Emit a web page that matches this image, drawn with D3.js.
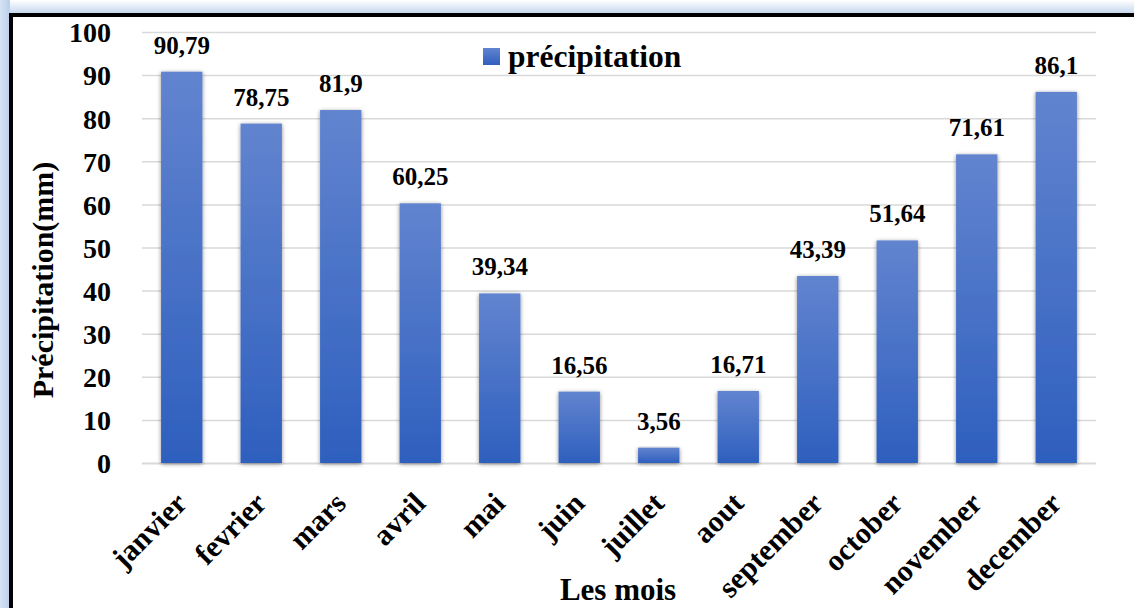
<!DOCTYPE html>
<html>
<head>
<meta charset="utf-8">
<script src="https://cdn.jsdelivr.net/npm/d3@7"></script>
<style>
html,body{margin:0;padding:0;background:#fff;}
svg{display:block;}
text{font-family:"Liberation Serif","Times New Roman",serif;font-weight:bold;fill:#000;}
</style>
</head>
<body>
<svg id="chart" width="1134" height="608"></svg>
<script>
const months = ["janvier","fevrier","mars","avril","mai","juin","juillet","aout","september","october","november","december"];
const precipitation = [90.79,78.75,81.9,60.25,39.34,16.56,3.56,16.71,43.39,51.64,71.61,86.1];
const valueLabels = ["90,79","78,75","81,9","60,25","39,34","16,56","3,56","16,71","43,39","51,64","71,61","86,1"];
const yTicks = [0,10,20,30,40,50,60,70,80,90,100];
const seriesName = "précipitation";
const yTitle = "Précipitation(mm)";
const xTitle = "Les mois";

const W = 1134, H = 608;
const svg = d3.select("#chart");
const defs = svg.append("defs");

const fg = defs.append("linearGradient").attr("id","frameTop").attr("x1",0).attr("y1",0).attr("x2",0).attr("y2",1);
fg.append("stop").attr("offset","0%").attr("stop-color","#ffffff");
fg.append("stop").attr("offset","100%").attr("stop-color","#c3d6ee");
const fl = defs.append("linearGradient").attr("id","frameLeft").attr("x1",0).attr("y1",0).attr("x2",1).attr("y2",0);
fl.append("stop").attr("offset","0%").attr("stop-color","#d6e3f4");
fl.append("stop").attr("offset","100%").attr("stop-color","#b9cfea");

const bg = defs.append("linearGradient").attr("id","barGrad").attr("x1",0).attr("y1",0).attr("x2",0).attr("y2",1);
bg.append("stop").attr("offset","0%").attr("stop-color","#6284cf");
bg.append("stop").attr("offset","100%").attr("stop-color","#2e5fbe");

const sh = defs.append("filter").attr("id","shadow").attr("x","-30%").attr("y","-10%").attr("width","160%").attr("height","130%");
sh.append("feDropShadow").attr("dx",0).attr("dy",1).attr("stdDeviation",2.2).attr("flood-color","#000").attr("flood-opacity",0.45);

// frame
svg.append("rect").attr("x",0).attr("y",0).attr("width",W).attr("height",14).attr("fill","url(#frameTop)");
svg.append("rect").attr("x",0).attr("y",0).attr("width",10).attr("height",H).attr("fill","url(#frameLeft)");
svg.append("rect").attr("x",9).attr("y",13).attr("width",W-9).attr("height",4).attr("fill","#000");
svg.append("rect").attr("x",9).attr("y",13).attr("width",4).attr("height",H-13).attr("fill","#000");

const x = d3.scaleBand().domain(months).range([142,1096]).paddingInner(0.48).paddingOuter(0.24);
const y = d3.scaleLinear().domain([0,100]).range([463,32]);

// gridlines
const yAxis = d3.axisLeft(y).tickValues(yTicks).tickSize(-(1096-142)).tickFormat(d=>d);
const gy = svg.append("g").attr("transform","translate(142,0)").call(yAxis);
gy.select(".domain").remove();
gy.selectAll(".tick line").attr("stroke","#d9d9d9").attr("stroke-width",d=>d===0?2:1.5);
gy.selectAll(".tick text").attr("x",-31).attr("dy","0.35em").attr("font-size",28).attr("fill","#000")
  .style("font-family","'Liberation Serif',serif").style("font-weight","bold");

// bars
svg.append("g").selectAll("rect").data(precipitation).join("rect")
  .attr("x",(d,i)=>x(months[i]))
  .attr("y",d=>y(d))
  .attr("width",x.bandwidth())
  .attr("height",d=>y(0)-y(d))
  .attr("fill","url(#barGrad)")
  .attr("filter","url(#shadow)");

// value labels
svg.append("g").selectAll("text").data(precipitation).join("text")
  .attr("x",(d,i)=>x(months[i])+x.bandwidth()/2)
  .attr("y",d=>y(d)-18)
  .attr("text-anchor","middle")
  .attr("font-size",25)
  .text((d,i)=>valueLabels[i]);

// x axis labels
const xAxis = d3.axisBottom(x).tickSize(0);
const gx = svg.append("g").attr("transform","translate(0,463)").call(xAxis);
gx.select(".domain").remove();
gx.selectAll(".tick text")
  .attr("x",0).attr("y",0).attr("dy",0)
  .attr("text-anchor","end")
  .attr("transform","translate(7,42) rotate(-45)")
  .attr("font-size",30).attr("fill","#000")
  .style("font-family","'Liberation Serif',serif").style("font-weight","bold");

// axis titles
svg.append("text").attr("transform","translate(53,280) rotate(-90)").attr("text-anchor","middle")
  .attr("font-size",30).text(yTitle);
svg.append("text").attr("x",618).attr("y",600).attr("text-anchor","middle").attr("font-size",31).text(xTitle);

// legend
svg.append("rect").attr("x",483).attr("y",48).attr("width",17).attr("height",17).attr("fill","url(#barGrad)");
svg.append("text").attr("x",508).attr("y",67).attr("font-size",31.5).text(seriesName);
</script>
</body>
</html>
